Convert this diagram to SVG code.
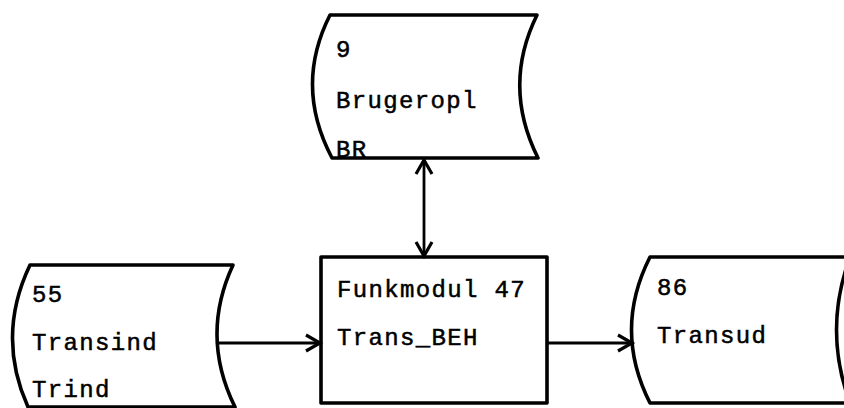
<svg xmlns="http://www.w3.org/2000/svg" width="844" height="408" viewBox="0 0 844 408">
<style>
.shape{fill:#fff;stroke:#000;stroke-width:3.6;stroke-linejoin:round}
.lbl{font-family:"Liberation Mono","Courier New",monospace;font-size:24px;letter-spacing:1.35px;fill:#000;stroke:#000;stroke-width:0.5}
.conn{fill:none;stroke:#000;stroke-width:2.8}
</style>
<defs>
<marker id="ah" markerUnits="userSpaceOnUse" markerWidth="20" markerHeight="20" viewBox="-16 -10 20 20" refX="0" refY="0" orient="auto-start-reverse">
<path d="M-14,-8 L0,0 L-14,8" fill="none" stroke="#000" stroke-width="3.2"/>
</marker>
</defs>
<rect width="844" height="408" fill="#fff"/>
<g id="node-brugeropl">
<path class="shape" d="M330,15 L537,15 Q502,86 538,158 L332,158 Q294,86 330,15 Z"/>
<text class="lbl" x="336" y="57">9</text>
<text class="lbl" x="336" y="108">Brugeropl</text>
<text class="lbl" x="336" y="157">BR</text>
</g>
<g id="node-funkmodul">
<rect class="shape" x="321" y="257" width="226" height="146"/>
<text class="lbl" x="337" y="297">Funkmodul 47</text>
<text class="lbl" x="337" y="345">Trans_BEH</text>
</g>
<g id="node-transind">
<path class="shape" d="M30,265 L233,265 Q200,336 235,407 L28,407 Q-4,336 30,265 Z"/>
<text class="lbl" x="32" y="302">55</text>
<text class="lbl" x="32" y="350">Transind</text>
<text class="lbl" x="32" y="397">Trind</text>
</g>
<g id="node-transud">
<path class="shape" d="M650,257 L850,257 Q823,330 850,403 L650,403 Q613,330 650,257 Z"/>
<text class="lbl" x="657" y="295">86</text>
<text class="lbl" x="657" y="343">Transud</text>
</g>
<g id="connectors">
<line class="conn" x1="424" y1="160" x2="424" y2="256" marker-start="url(#ah)" marker-end="url(#ah)"/>
<line class="conn" x1="218" y1="343" x2="320" y2="343" marker-end="url(#ah)"/>
<line class="conn" x1="547" y1="343" x2="632" y2="343" marker-end="url(#ah)"/>
</g>
</svg>
